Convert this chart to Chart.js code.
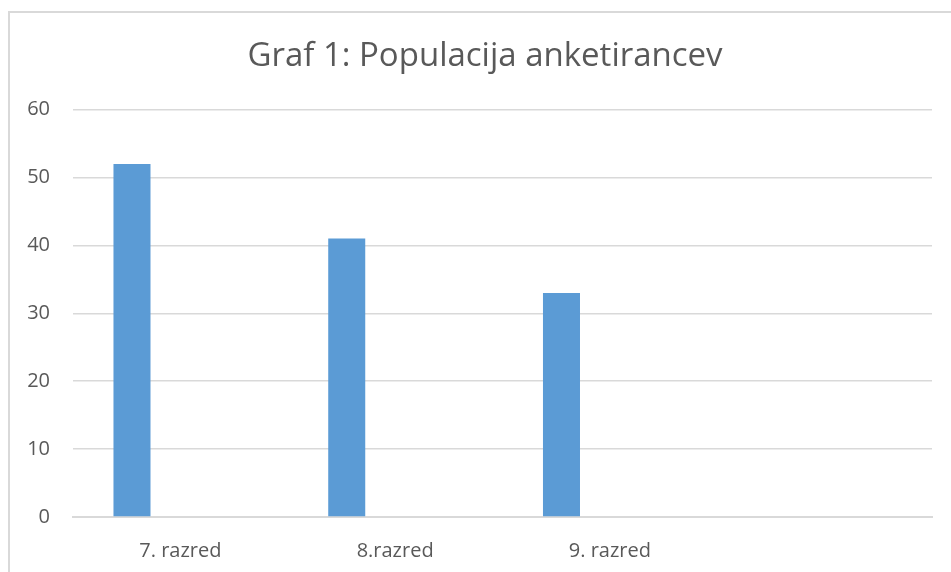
<!DOCTYPE html>
<html>
<head>
<meta charset="utf-8">
<script src="https://cdn.jsdelivr.net/npm/chart.js@4"></script>
<style>
  html, body { margin: 0; padding: 0; background: #fff; }
  #frame {
    position: absolute; left: 8px; top: 11px; right: 0; bottom: 0;
    border-left: 2px solid #d9d9d9; border-top: 2px solid #d9d9d9;
  }
  #wrap { position: absolute; left: 0; top: 0; width: 951px; height: 572px; }
</style>
</head>
<body>
<div id="frame"></div>
<div id="wrap"><canvas id="chart" width="951" height="572"></canvas></div>
<script>
// podatki
const razredi = ["7. razred", "8.razred", "9. razred", ""];
const anketiranci = [52, 41, 33, null];
const prazno1 = [null, null, null, null];
const prazno2 = [null, null, null, null];
const yTicks = [0, 10, 20, 30, 40, 50, 60];

const barva = "#5b9bd5";
const siva = "#595959";
const mreza = "#d9d9d9";
const font = "'Open Sans', 'DejaVu Sans', sans-serif";

// naslov je v Excelu centriran na okvir, ne na cel canvas
const zamikNaslova = {
  id: "zamikNaslova",
  afterLayout(chart) {
    if (chart.titleBlock) {
      chart.titleBlock.left = 38;
    }
  }
};

const config = {
  type: "bar",
  data: {
    labels: razredi,
    datasets: [
      { label: "Populacija", data: anketiranci, backgroundColor: barva },
      { label: "", data: prazno1, backgroundColor: barva },
      { label: "", data: prazno2, backgroundColor: barva },
    ],
  },
  options: {
    responsive: false,
    animation: false,
    datasets: {
      bar: { categoryPercentage: 0.676, barPercentage: 0.765 }
    },
    layout: { padding: { left: 0, right: 19, top: 0, bottom: 0 } },
    plugins: {
      legend: { display: false },
      tooltip: { enabled: false },
      title: {
        display: true,
        text: "Graf 1: Populacija anketirancev",
        color: siva,
        font: { family: font, size: 33, weight: "normal" },
        padding: { top: 37, bottom: 33 },
      },
    },
    scales: {
      x: {
        grid: { display: false },
        border: { display: true, color: mreza, width: 2 },
        ticks: {
          color: siva,
          font: { family: font, size: 20 },
          padding: 14,
          maxRotation: 0,
        },
        afterFit: function(scale) { scale.height = 55; },
      },
      y: {
        min: 0,
        max: 60,
        afterBuildTicks: function(scale) {
          scale.ticks = yTicks.map(v => ({ value: v }));
        },
        grid: { color: mreza, lineWidth: 1.5, drawTicks: false },
        border: { display: false },
        ticks: {
          color: siva,
          font: { family: font, size: 20 },
          padding: 23,
        },
        afterFit: function(scale) { scale.width = 73; },
      },
    },
  },
  plugins: [zamikNaslova],
};

new Chart(document.getElementById("chart"), config);
</script>
</body>
</html>
